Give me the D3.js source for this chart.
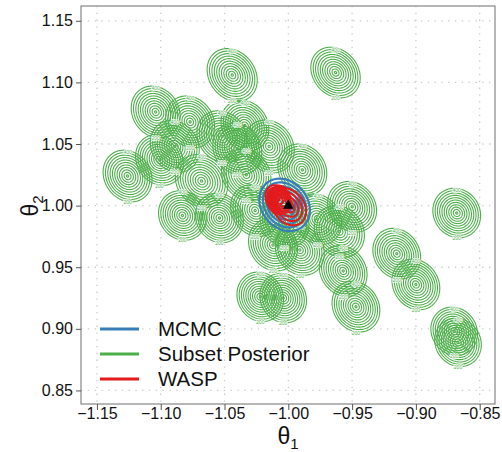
<!DOCTYPE html>
<html lang="en">
<head>
  <meta charset="UTF-8">
  <title>Subset posteriors, MCMC and WASP</title>
  <script src="https://d3js.org/d3.v7.min.js"></script>
  <style>
    body { margin: 0; background: #fff; font-family: "Liberation Sans", Arial, sans-serif; }
    svg { display: block; }
  </style>
</head>
<body>
  <svg width="502" height="452"></svg>

  <script>
    // axis ticks
    const xTicks = [-1.15, -1.10, -1.05, -1.00, -0.95, -0.90, -0.85];
    const xTickLabels = ["\u22121.15", "\u22121.10", "\u22121.05", "\u22121.00", "\u22120.95", "\u22120.90", "\u22120.85"];
    const yTicks = [0.85, 0.90, 0.95, 1.00, 1.05, 1.10, 1.15];
    const yTickLabels = ["0.85", "0.90", "0.95", "1.00", "1.05", "1.10", "1.15"];

    // subset posteriors: centre, half-width of support, correlation, peak height
    const subX  = [-1.126, -1.044, -0.963, -1.104, -1.077, -1.052, -1.089, -1.068, -1.083, -1.054,
                   -1.033, -1.015, -0.989, -0.950, -0.868, -1.012, -0.991, -0.960, -0.957, -0.947,
                   -1.022, -1.004, -0.915, -0.900, -0.870, -0.867, -1.026, -1.003, -1.040, -1.034,
                   -1.101, -0.977];
    const subY  = [1.024, 1.106, 1.108, 1.076, 1.068, 1.056, 1.048, 1.020, 0.992, 0.990,
                   1.025, 1.048, 1.029, 0.999, 0.994, 0.968, 0.964, 0.979, 0.947, 0.918,
                   0.926, 0.925, 0.961, 0.936, 0.898, 0.889, 0.996, 0.987, 1.046, 1.065,
                   1.037, 0.989];
    const subRx = [0.0210, 0.0215, 0.0212, 0.0210, 0.0210, 0.0215, 0.0210, 0.0225, 0.0205, 0.0205,
                   0.0212, 0.0215, 0.0210, 0.0210, 0.0205, 0.0210, 0.0210, 0.0215, 0.0205, 0.0205,
                   0.0200, 0.0200, 0.0205, 0.0205, 0.0200, 0.0200, 0.0210, 0.0210, 0.0210, 0.0205,
                   0.0205, 0.0205];
    const subRy = [0.0230, 0.0235, 0.0225, 0.0230, 0.0230, 0.0230, 0.0230, 0.0235, 0.0220, 0.0220,
                   0.0230, 0.0235, 0.0230, 0.0225, 0.0220, 0.0230, 0.0225, 0.0230, 0.0225, 0.0225,
                   0.0220, 0.0220, 0.0225, 0.0225, 0.0215, 0.0215, 0.0230, 0.0230, 0.0230, 0.0225,
                   0.0225, 0.0225];
    const subCor = [-0.15, -0.20, -0.20, -0.15, -0.15, -0.15, -0.15, -0.15, -0.10, -0.10,
                    -0.15, -0.15, -0.15, -0.15, -0.10, -0.15, -0.15, -0.15, -0.15, -0.15,
                    -0.10, -0.10, -0.15, -0.15, -0.10, -0.10, -0.15, -0.15, -0.15, -0.15,
                    -0.15, -0.15];
    const subPeak = [2300, 2300, 2300, 2300, 2300, 2300, 2300, 2300, 2300, 2300,
                     2300, 2300, 2300, 2300, 2300, 2300, 2300, 2300, 2300, 2300,
                     2300, 2300, 2300, 2300, 2300, 2300, 2300, 2300, 2300, 2300,
                     2300, 2300];
    const subLevels = [200, 400, 600, 800, 1000, 1200, 1400, 1600, 1800, 2000, 2200, 2400];

    // full-data MCMC
    const mcmcMean = [-1.0029, 1.0006];
    const mcmcR = [0.0212, 0.0228];
    const mcmcCor = -0.2;
    const mcmcPeak = 3000;
    const mcmcLevels = [200, 600, 1000, 1400, 1800, 2200, 2600];

    // WASP: two overlapping parts give its lopsided shape
    const waspX = [-1.0084, -0.9995];
    const waspY = [1.0054, 0.9990];
    const waspRx = [0.0110, 0.0165];
    const waspRy = [0.0130, 0.0185];
    const waspCor = [-0.2, -0.25];
    const waspPeak = [2200, 1600];
    const waspLevels = [300, 600, 900, 1200, 1500, 1800, 2100, 2400, 2700, 3000];

    const truth = [-1.0, 1.0];

    const legendNames = ["MCMC", "Subset Posterior", "WASP"];
    const legendColors = ["#377EB8", "#4DAF4A", "#E41A1C"];

    const svg = d3.select("svg");
    const pLeft = 81, pRight = 495, pTop = 6, pBottom = 404;

    const x = d3.scaleLinear().domain([-1.1625, -0.838]).range([pLeft, pRight]);
    const y = d3.scaleLinear().domain([0.839, 1.162]).range([pBottom, pTop]);

    svg.append("defs").append("clipPath").attr("id", "panel")
      .append("rect").attr("x", pLeft).attr("y", pTop)
      .attr("width", pRight - pLeft).attr("height", pBottom - pTop);

    // dotted grid
    const grid = svg.append("g").attr("stroke", "#c9c9c9").attr("stroke-width", 1.3)
      .attr("stroke-dasharray", "1.3,5.5");
    grid.selectAll(".gx").data(xTicks).enter().append("line")
      .attr("x1", d => x(d)).attr("x2", d => x(d)).attr("y1", pTop).attr("y2", pBottom);
    grid.selectAll(".gy").data(yTicks).enter().append("line")
      .attr("y1", d => y(d)).attr("y2", d => y(d)).attr("x1", pLeft).attr("x2", pRight);

    // density falling linearly from its peak to zero at the edge of an ellipse
    function cone(mx, my, rx, ry, r, peak) {
      return (a, b) => {
        const u = (a - mx) / rx, v = (b - my) / ry;
        const q = Math.sqrt(Math.max(0, (u * u - 2 * r * u * v + v * v) / (1 - r * r)));
        return peak * Math.max(0, 1 - q);
      };
    }

    // contour rings of one density on a local pixel window
    function rings(g, f, cx, cy, half, levels) {
      const n = 2 * half, x0 = x(cx) - half, y0 = y(cy) - half;
      const values = new Array(n * n);
      for (let j = 0; j < n; j++) {
        for (let i = 0; i < n; i++) {
          values[j * n + i] = f(x.invert(x0 + i), y.invert(y0 + j));
        }
      }
      const path = d3.geoPath(d3.geoTransform({
        point(px, py) { this.stream.point(x0 + px - 0.5, y0 + py - 0.5); }
      }));
      const cs = d3.contours().size([n, n]).thresholds(levels)(values);
      g.selectAll(null).data(cs.filter(c => c.coordinates.length)).enter()
        .append("path").attr("d", path);
    }

    const plot = svg.append("g").attr("clip-path", "url(#panel)").attr("fill", "none");

    const gSub = plot.append("g").attr("stroke", legendColors[1]).attr("stroke-width", 1.1);
    const gLab = plot.append("g").attr("fill", legendColors[1]).attr("font-size", 5)
      .attr("text-anchor", "middle").attr("dominant-baseline", "central")
      .attr("stroke", "#fff").attr("stroke-width", 1.4).attr("paint-order", "stroke");

    const placed = [];
    subX.forEach((mx, i) => {
      const my = subY[i];
      const f = cone(mx, my, subRx[i], subRy[i], subCor[i], subPeak[i]);
      rings(gSub, f, mx, my, 40, subLevels.filter(l => l < subPeak[i]));
      // ring labels: 200 at the bottom, 400 at the top (walk out from the centre)
      [[200, -1], [400, 1]].forEach(([lv, s]) => {
        let py = y(my);
        while (f(mx, y.invert(py)) > lv && Math.abs(py - y(my)) < 40) py -= s;
        const lx = x(mx);
        if (placed.some(([qx, qy]) => Math.abs(qx - lx) < 10 && Math.abs(qy - py) < 6)) return;
        placed.push([lx, py]);
        gLab.append("text").attr("x", lx).attr("y", py).text(lv);
      });
    });

    const gMcmc = plot.append("g").attr("stroke", legendColors[0]).attr("stroke-width", 2.2);
    rings(gMcmc, cone(mcmcMean[0], mcmcMean[1], mcmcR[0], mcmcR[1], mcmcCor, mcmcPeak),
      mcmcMean[0], mcmcMean[1], 40, mcmcLevels);

    const waspParts = waspX.map((mx, i) =>
      cone(mx, waspY[i], waspRx[i], waspRy[i], waspCor[i], waspPeak[i]));
    const gWasp = plot.append("g").attr("stroke", legendColors[2]).attr("stroke-width", 2);
    rings(gWasp, (a, b) => d3.sum(waspParts, f => f(a, b)),
      d3.mean(waspX), d3.mean(waspY), 40, waspLevels);

    svg.append("path")
      .attr("d", d3.symbol(d3.symbolTriangle).size(48)())
      .attr("transform", `translate(${x(truth[0])},${y(truth[1])})`)
      .attr("fill", "#000");

    // panel border
    svg.append("rect").attr("x", pLeft).attr("y", pTop)
      .attr("width", pRight - pLeft).attr("height", pBottom - pTop)
      .attr("fill", "none").attr("stroke", "#858585").attr("stroke-width", 1.2);

    // axes
    const xAxis = svg.append("g").attr("transform", `translate(0,${pBottom})`)
      .call(d3.axisBottom(x).tickValues(xTicks).tickFormat((d, i) => xTickLabels[i])
        .tickSize(6).tickPadding(-2));
    const yAxis = svg.append("g").attr("transform", `translate(${pLeft},0)`)
      .call(d3.axisLeft(y).tickValues(yTicks).tickFormat((d, i) => yTickLabels[i])
        .tickSize(5).tickPadding(3));
    [xAxis, yAxis].forEach(a => {
      a.select(".domain").remove();
      a.selectAll("line").attr("stroke", "#555");
      a.selectAll("text").attr("font-family", "Liberation Sans, Arial, sans-serif")
        .attr("font-size", 16).attr("fill", "#111");
    });

    // axis titles
    const xt = svg.append("text").attr("x", 288).attr("y", 444).attr("text-anchor", "middle")
      .attr("font-size", 23).attr("fill", "#111");
    xt.append("tspan").text("\u03b8");
    xt.append("tspan").attr("font-size", 15).attr("dy", 4.5).text("1");

    const yt = svg.append("text").attr("transform", "translate(38,206) rotate(-90)")
      .attr("text-anchor", "middle").attr("font-size", 23).attr("fill", "#111");
    yt.append("tspan").text("\u03b8");
    yt.append("tspan").attr("font-size", 15).attr("dy", 4.5).text("2");

    // legend
    const leg = svg.append("g");
    legendNames.forEach((name, i) => {
      const ly = 329 + i * 25;
      leg.append("line").attr("x1", 100).attr("x2", 139).attr("y1", ly).attr("y2", ly)
        .attr("stroke", legendColors[i]).attr("stroke-width", 3);
      leg.append("text").attr("x", 158).attr("y", ly).attr("dy", "0.36em")
        .attr("font-size", 20.5).attr("fill", "#111").text(name);
    });
  </script>
</body>
</html>
